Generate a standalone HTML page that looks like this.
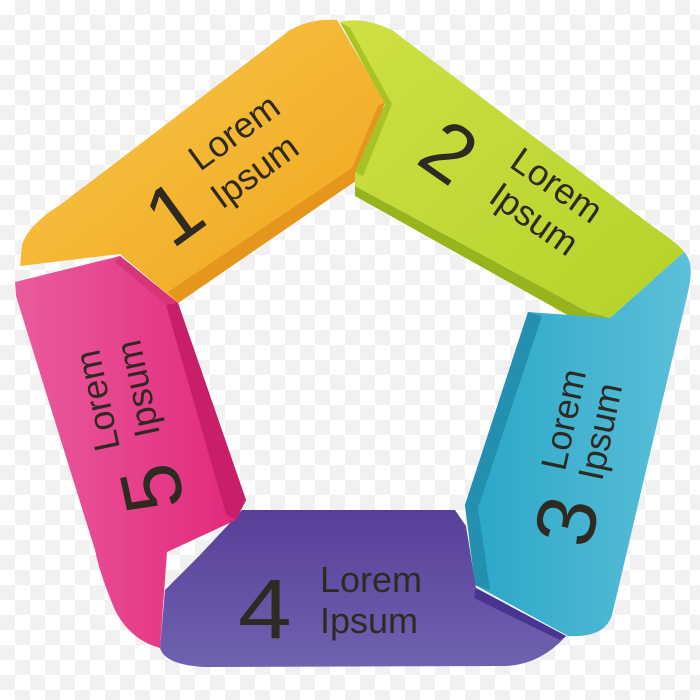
<!DOCTYPE html>
<html><head><meta charset="utf-8"><style>
html,body{margin:0;padding:0;width:700px;height:700px;overflow:hidden;
background-color:#fff;
background-image:linear-gradient(45deg,#f1f1f1 25%,transparent 25%,transparent 75%,#f1f1f1 75%),linear-gradient(45deg,#f1f1f1 25%,transparent 25%,transparent 75%,#f1f1f1 75%);
background-size:30px 30px;background-position:0 0,15px 15px;}
text{font-family:"Liberation Sans",sans-serif;fill:#2e2a22;}
</style></head><body>
<svg width="700" height="700" viewBox="0 0 700 700" xmlns="http://www.w3.org/2000/svg">
<defs>
<linearGradient id="gy" x1="0" y1="0" x2="1" y2="1"><stop offset="0" stop-color="#f7c84a"/><stop offset="1" stop-color="#f0a51c"/></linearGradient>
<linearGradient id="gg" x1="0" y1="0" x2="1" y2="1"><stop offset="0" stop-color="#cfe043"/><stop offset="1" stop-color="#b4d22a"/></linearGradient>
<linearGradient id="gb" x1="0" y1="0" x2="1" y2="0"><stop offset="0" stop-color="#2aa6c8"/><stop offset="1" stop-color="#5cc0d8"/></linearGradient>
<linearGradient id="gp" x1="0" y1="0" x2="0" y2="1"><stop offset="0" stop-color="#573f98"/><stop offset="1" stop-color="#7062b0"/></linearGradient>
<linearGradient id="gk" x1="0" y1="0" x2="1" y2="0"><stop offset="0" stop-color="#ea5c9c"/><stop offset="1" stop-color="#e2277a"/></linearGradient>
</defs>
<!-- yellow -->
<path d="M20,266 L22,245 Q28,225 60,205 L290,30 Q312,18 337,20 L385,102 L360,178 L178,303 L120,254 Z" fill="url(#gy)"/>
<path d="M385,102 L360,178 L178,303 L168,292 L352,168 L378,106 Z" fill="#e0901a" opacity="0.8"/>
<!-- green -->
<path d="M340,22 Q362,16 392,30 L655,228 Q680,245 684,252 L610,318 L588,312 L355,186 L355,172 L385,104 Z" fill="url(#gg)"/>
<path d="M355,172 L385,104 L340,22 L350,28 L392,104 L363,176 Z" fill="#9bb81d" opacity="0.7"/>
<path d="M355,186 L588,312 L610,318 L600,326 L580,322 L355,196 Z" fill="#98b41c"/>
<!-- blue -->
<path d="M610,318 L684,252 Q695,262 688,292 L612,615 Q605,638 568,636 L475,585 L465,505 L528,312 Z" fill="url(#gb)"/>
<path d="M528,312 L465,505 L475,585 L490,590 L478,508 L542,316 Z" fill="#2390b0"/>
<!-- purple -->
<path d="M242,510 L455,510 L466,526 L476,588 L566,636 Q540,665 505,666 L205,667 Q165,665 160,648 L165,590 L200,555 Z" fill="url(#gp)"/>
<path d="M476,588 L566,636 L560,640 L474,598 Z" fill="#4b3490"/>
<!-- pink -->
<path d="M15,282 L120,256 L178,303 L246,500 L236,520 L167,552 L160,648 Q130,640 115,610 Q100,575 95,550 L16,296 Z" fill="url(#gk)"/>
<path d="M178,303 L246,500 L236,520 L226,514 L166,305 Z" fill="#c91e68"/>
<path d="M120,256 L178,303 L166,305 L115,262 Z" fill="#d83478"/>
<!-- texts -->
<text transform="translate(172,250) rotate(-36)" font-size="84">1</text>
<text transform="translate(200,172) rotate(-36)" font-size="36">Lorem</text>
<text transform="translate(222,210) rotate(-36)" font-size="36">Ipsum</text>
<text transform="translate(414,162) rotate(35)" font-size="82">2</text>
<text transform="translate(508,166) rotate(35)" font-size="36">Lorem</text>
<text transform="translate(487,201) rotate(35)" font-size="36">Ipsum</text>
<text transform="translate(590,550) rotate(-78)" font-size="84">3</text>
<text transform="translate(565,472) rotate(-78)" font-size="36">Lorem</text>
<text transform="translate(602,482) rotate(-78)" font-size="36">Ipsum</text>
<text x="238" y="638" font-size="92" transform="translate(238,638) scale(1.05,0.92) translate(-238,-638)">4</text>
<text x="320" y="592" font-size="36">Lorem</text>
<text x="320" y="633" font-size="36">Ipsum</text>
<text transform="translate(185,505) rotate(-102)" font-size="84">5</text>
<text transform="translate(120,448) rotate(-102)" font-size="36">Lorem</text>
<text transform="translate(160,434) rotate(-102)" font-size="36">Ipsum</text>
</svg>
</body></html>
